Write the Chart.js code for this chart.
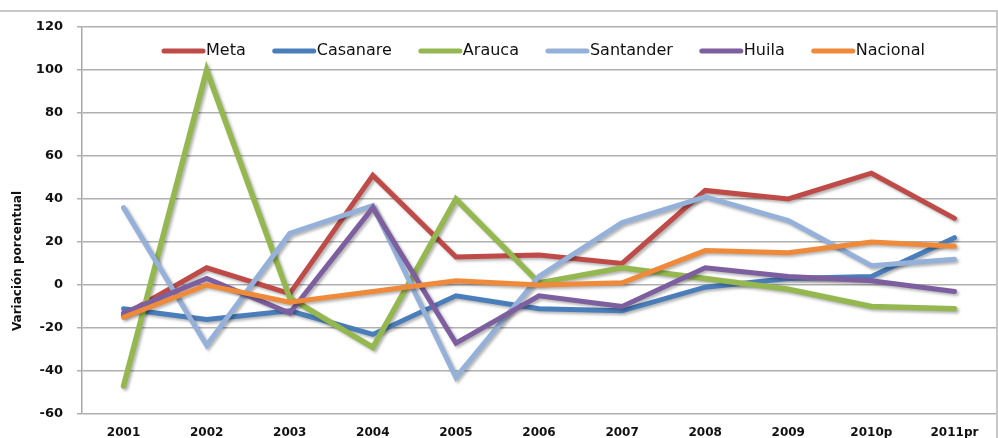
<!DOCTYPE html>
<html>
<head>
<meta charset="utf-8">
<script src="https://cdn.jsdelivr.net/npm/chart.js@4/dist/chart.umd.min.js"></script>
<style>
  html, body { margin: 0; padding: 0; background: #ffffff; }
  #wrap { width: 998px; height: 438px; position: relative; }
</style>
</head>
<body>
<div id="wrap"><canvas id="c" width="998" height="438"></canvas></div>
<script>
const categories = ['2001','2002','2003','2004','2005','2006','2007','2008','2009','2010p','2011pr'];
const seriesNames = ['Meta','Casanare','Arauca','Santander','Huila','Nacional'];
const meta      = [-14,   8,  -4,  51,  13,  14,  10,  44,  40,  52,  31];
const casanare  = [-11, -16, -12, -23,  -5, -11, -12,  -1,   3,   4,  22];
const arauca    = [-47, 100,  -6, -29,  40,   1,   8,   3,  -2, -10, -11];
const santander = [ 36, -28,  24,  37, -43,   4,  29,  41,  30,   9,  12];
const huila     = [-13,   3, -13,  36, -27,  -5, -10,   8,   4,   2,  -3];
const nacional  = [-15,   0,  -8,  -3,   2,   0,   1,  16,  15,  20,  18];
const yTicks = [-60,-40,-20,0,20,40,60,80,100,120];
const yTitle = 'Variación porcentual';

const colors = ['#BE4B48','#4A7EBB','#94B84F','#95B1D9','#7D5FA0','#EE8A3A'];
const values = [meta, casanare, arauca, santander, huila, nacional];

const datasets = seriesNames.map((n, i) => ({
  label: n,
  data: values[i],
  borderColor: colors[i],
  backgroundColor: colors[i],
  borderWidth: i === 2 ? 5.5 : 5,
  pointRadius: 0,
  pointHoverRadius: 0,
  tension: 0,
  fill: false,
  borderCapStyle: 'round',
  borderJoinStyle: 'miter',
  order: seriesNames.length - i
}));

const framePlugin = {
  id: 'frame',
  beforeDraw(chart) {
    const ctx = chart.ctx;
    ctx.save();
    ctx.strokeStyle = '#c8c8c8';
    ctx.lineWidth = 2;
    ctx.beginPath();
    ctx.moveTo(0, 11); ctx.lineTo(998, 11);
    ctx.moveTo(997, 11); ctx.lineTo(997, 438);
    ctx.stroke();
    ctx.restore();
  }
};

const shadowPlugin = {
  id: 'shadow',
  beforeDatasetsDraw(chart) {
    const ctx = chart.ctx;
    ctx.save();
    ctx.shadowColor = 'rgba(0,0,0,0.30)';
    ctx.shadowBlur = 3;
    ctx.shadowOffsetX = 2;
    ctx.shadowOffsetY = 2;
  },
  afterDatasetsDraw(chart) {
    chart.ctx.restore();
  }
};

const legendPlugin = {
  id: 'customLegend',
  afterDraw(chart) {
    const ctx = chart.ctx;
    ctx.save();
    ctx.font = '16px "DejaVu Sans"';
    ctx.textBaseline = 'middle';
    ctx.fillStyle = '#111111';
    const y = 51;
    const lineLen = 43;
    const gap = 27;
    let x = 162;
    seriesNames.forEach((n, i) => {
      ctx.strokeStyle = colors[i];
      ctx.lineWidth = 5;
      ctx.lineCap = 'round';
      ctx.beginPath();
      ctx.moveTo(x + 2, y);
      ctx.lineTo(x + lineLen - 2, y);
      ctx.stroke();
      const tx = x + lineLen + 1;
      ctx.fillText(n, tx, y);
      x = tx + ctx.measureText(n).width + gap;
    });
    // y axis title
    ctx.translate(18, 261);
    ctx.rotate(-Math.PI / 2);
    ctx.font = 'bold 12px "DejaVu Sans"';
    ctx.textAlign = 'center';
    ctx.fillText(yTitle, 0, 0);
    ctx.restore();
  }
};

new Chart(document.getElementById('c'), {
  type: 'line',
  data: { labels: categories, datasets },
  options: {
    responsive: false,
    devicePixelRatio: 1,
    animation: false,
    events: [],
    layout: { padding: { top: 27, right: 2, left: 0, bottom: 0 } },
    plugins: { legend: { display: false }, tooltip: { enabled: false } },
    scales: {
      x: {
        offset: true,
        grid: { display: false },
        border: { display: false },
        ticks: {
          font: { family: 'DejaVu Sans', size: 12, weight: 'bold' },
          color: '#111111',
          padding: 4,
          maxRotation: 0,
          autoSkip: false
        },
        afterFit(scale) { scale.height = 24; }
      },
      y: {
        min: -60,
        max: 120,
        afterBuildTicks(scale) { scale.ticks = yTicks.map(v => ({ value: v })); },
        grid: { color: '#b0b0b0', lineWidth: 1.5, tickLength: 5, drawTicks: true },
        border: { display: true, color: '#a8a8a8', width: 1.5 },
        ticks: {
          font: { family: 'DejaVu Sans', size: 13, weight: 'bold' },
          color: '#111111',
          padding: 14
        },
        afterFit(scale) { scale.width = 82; }
      }
    }
  },
  plugins: [framePlugin, shadowPlugin, legendPlugin]
});
</script>
</body>
</html>
